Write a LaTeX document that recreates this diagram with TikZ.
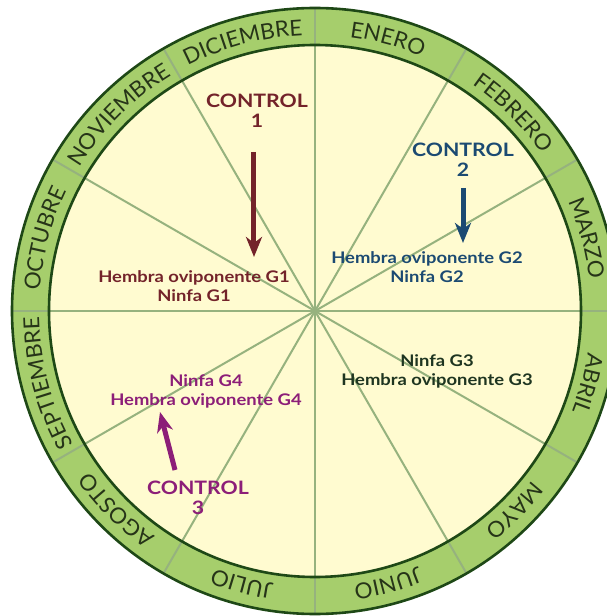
\documentclass[tikz,border=0pt]{standalone}
\usepackage{fontspec}
\setmainfont{Lato}
\newfontfamily\labfont[FakeStretch=1.15]{Lato}
\newfontfamily\monthfont[FakeStretch=1.02]{Lato}
\usetikzlibrary{arrows.meta,decorations.text}
\definecolor{ringgreen}{RGB}{166,206,108}
\definecolor{paper}{RGB}{255,251,208}
\definecolor{rimcol}{RGB}{30,72,22}
\definecolor{spokecol}{RGB}{150,178,126}
\definecolor{monthtext}{RGB}{38,52,24}
\definecolor{cone}{RGB}{115,35,42}
\definecolor{ctwo}{RGB}{27,74,114}
\definecolor{cthree}{RGB}{30,53,32}
\definecolor{cfour}{RGB}{140,30,120}
\tikzset{
  spoke/.style={draw=spokecol, line width=2pt},
  divider/.style={draw=spokecol, line width=2pt},
  rim/.style={draw=rimcol, line width=2.6pt},
  ctl/.style={font=\labfont\bfseries\fontsize{18.5}{20}\selectfont, align=center, inner sep=0pt},
  lab/.style={font=\labfont\bfseries\fontsize{16}{19}\selectfont, align=center, inner sep=0pt},
  arr/.style={line width=5pt, -{Stealth[length=20pt,width=16pt,inset=6pt]}}
}
\newcommand\putmonth[2]{%
  \path[decorate, decoration={text along path,
      text={|\monthfont\fontsize{22}{22}\selectfont|#2},
      text align=center, text color=monthtext}]
    (#1+15:276) arc[start angle=#1+15, end angle=#1-15, radius=276];}
\begin{document}
\begin{tikzpicture}[x=1pt,y=1pt]
\useasboundingbox (-315,-305) rectangle (292,311);
\coordinate (O) at (0,0);
\fill[ringgreen] (O) circle[radius=303];
\fill[paper] (O) circle[radius=266];
\foreach \a in {0,30,...,330} {
  \draw[spoke] (O) -- (\a:266);
  \draw[divider] (\a:266) -- (\a:303);
}
\draw[rim] (O) circle[radius=303];
\draw[rim] (O) circle[radius=266];
\putmonth{75}{ENERO}
\putmonth{45}{FEBRERO}
\putmonth{15}{MARZO}
\putmonth{-15}{ABRIL}
\putmonth{-45}{MAYO}
\putmonth{-75}{JUNIO}
\putmonth{-105}{JULIO}
\putmonth{-135}{AGOSTO}
\putmonth{-165}{SEPTIEMBRE}
\putmonth{165}{OCTUBRE}
\putmonth{135}{NOVIEMBRE}
\putmonth{105}{DICIEMBRE}
% labels
\node[ctl, text=cone] (ctl1) at (-58,200) {CONTROL\\1};
\node[lab, text=cone] (g1) at (-121,25) {Hembra oviponente G1\\Ninfa G1};
\node[ctl, text=ctwo] (ctl2) at (148,151) {CONTROL\\2};
\node[lab, text=ctwo] (g2) at (112,43.5) {Hembra oviponente G2\\Ninfa G2};
\node[lab, text=cthree] (g3) at (122,-60.5) {Ninfa G3\\Hembra oviponente G3};
\node[lab, text=cfour] (g4) at (-109,-80) {Ninfa G4\\Hembra oviponente G4};
\node[ctl, text=cfour] (ctl3) at (-117,-187) {CONTROL\\3};
% arrows
\coordinate (a1s) at (-61,159); \coordinate (a1e) at (-61,54);
\coordinate (a2s) at (148,123); \coordinate (a2e) at (148,68);
\coordinate (a3s) at (-140,-159); \coordinate (a3e) at (-155,-101);
\draw[arr, draw=cone, fill=cone] (a1s) -- (a1e);
\draw[arr, draw=ctwo, fill=ctwo] (a2s) -- (a2e);
\draw[arr, draw=cfour, fill=cfour] (a3s) -- (a3e);
\end{tikzpicture}
\end{document}
